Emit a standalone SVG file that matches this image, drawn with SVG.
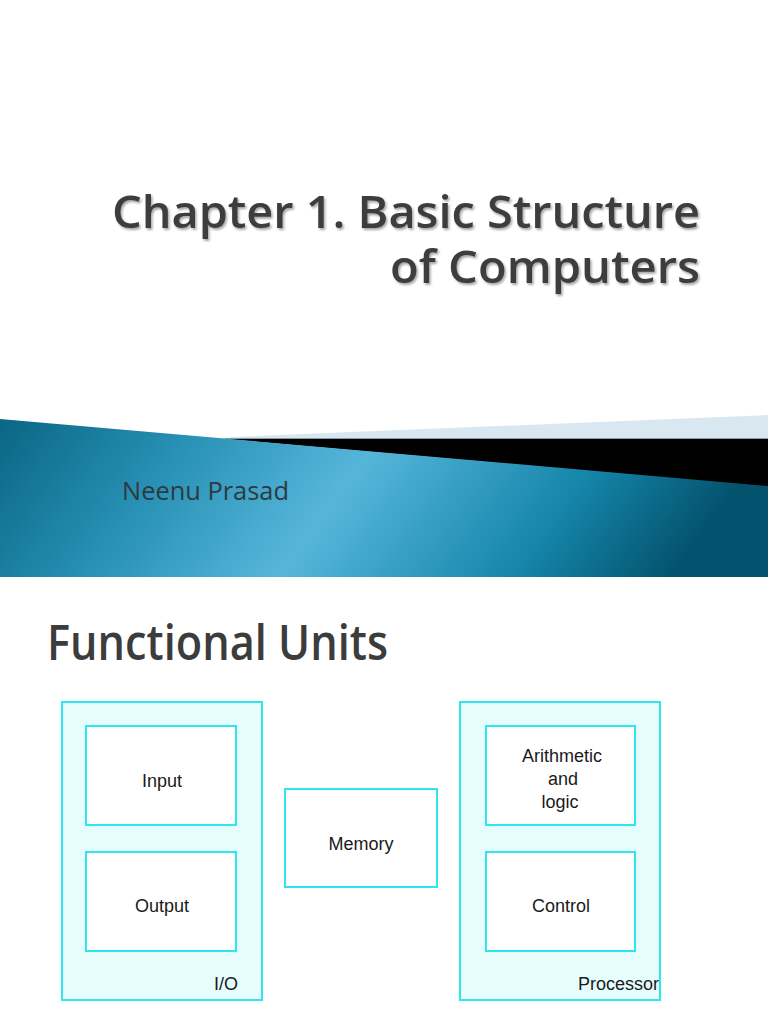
<svg xmlns="http://www.w3.org/2000/svg" width="768" height="1024" viewBox="0 0 768 1024">
  <defs>
    <linearGradient id="bannerGrad" x1="0" y1="0" x2="1" y2="0.15">
      <stop offset="0" stop-color="#0a6684"/>
      <stop offset="0.25" stop-color="#2790b4"/>
      <stop offset="0.5" stop-color="#56b6da"/>
      <stop offset="0.8" stop-color="#1585aa"/>
      <stop offset="1" stop-color="#04536e"/>
    </linearGradient>
    <filter id="shadow" x="-5%" y="-20%" width="110%" height="140%">
      <feDropShadow dx="1.5" dy="2" stdDeviation="1" flood-color="#000" flood-opacity="0.35"/>
    </filter>
    <style>
      .title { font-family: "Open Sans", "DejaVu Sans", sans-serif; fill: #3c3c3c; font-weight: 600; }
      .outer { fill: #e6fdfe; stroke: #2fe6ef; stroke-width: 2; }
      .inner { fill: #ffffff; stroke: #2fe6ef; stroke-width: 2; }
      .lbl { font-family: "Liberation Sans", Arial, sans-serif; font-size: 18px; fill: #1a1a1a; }
    </style>
  </defs>

  <!-- Slide 1 -->
  <rect x="0" y="0" width="768" height="577" fill="#ffffff"/>
  <g id="title-slide">
    <text class="title" x="700" y="228" font-size="45" text-anchor="end" filter="url(#shadow)" textLength="588" lengthAdjust="spacingAndGlyphs">Chapter 1. Basic Structure</text>
    <text class="title" x="700" y="283" font-size="45" text-anchor="end" filter="url(#shadow)" textLength="310" lengthAdjust="spacingAndGlyphs">of Computers</text>
  </g>
  <g id="banner">
    <polygon points="230,437 768,415 768,438 230,438" fill="#d9e8f0"/>
    <line x1="225" y1="438.5" x2="768" y2="438.5" stroke="#8a9aa3" stroke-width="1"/>
    <polygon points="225,439 768,439 768,487" fill="#000000"/>
    <polygon points="0,419 768,486 768,577 0,577" fill="url(#bannerGrad)"/>
    <text x="122" y="500" font-family="'Open Sans', 'DejaVu Sans', sans-serif" font-size="25" fill="#2f3a40" textLength="167" lengthAdjust="spacingAndGlyphs">Neenu Prasad</text>
  </g>

  <!-- Slide 2 -->
  <text class="title" x="47" y="660" font-size="48" textLength="341" lengthAdjust="spacingAndGlyphs" fill="#404040">Functional Units</text>

  <g id="io">
    <rect class="outer" x="62" y="702" width="200" height="298"/>
    <text class="lbl" x="238" y="990" text-anchor="end">I/O</text>
  </g>
  <g id="input">
    <rect class="inner" x="86" y="726" width="150" height="99"/>
    <text class="lbl" x="162" y="787" text-anchor="middle">Input</text>
  </g>
  <g id="output">
    <rect class="inner" x="86" y="852" width="150" height="99"/>
    <text class="lbl" x="162" y="912" text-anchor="middle">Output</text>
  </g>
  <g id="memory">
    <rect class="inner" x="285" y="789" width="152" height="98"/>
    <text class="lbl" x="361" y="850" text-anchor="middle">Memory</text>
  </g>
  <g id="processor">
    <rect class="outer" x="460" y="702" width="200" height="298"/>
    <text class="lbl" x="659" y="990" text-anchor="end">Processor</text>
  </g>
  <g id="alu">
    <rect class="inner" x="486" y="726" width="149" height="99"/>
    <text class="lbl" x="562" y="762" text-anchor="middle">Arithmetic</text>
    <text class="lbl" x="563" y="785" text-anchor="middle">and</text>
    <text class="lbl" x="560" y="808" text-anchor="middle">logic</text>
  </g>
  <g id="control">
    <rect class="inner" x="486" y="852" width="149" height="99"/>
    <text class="lbl" x="561" y="912" text-anchor="middle">Control</text>
  </g>
  <g id="connectors"></g>
</svg>
